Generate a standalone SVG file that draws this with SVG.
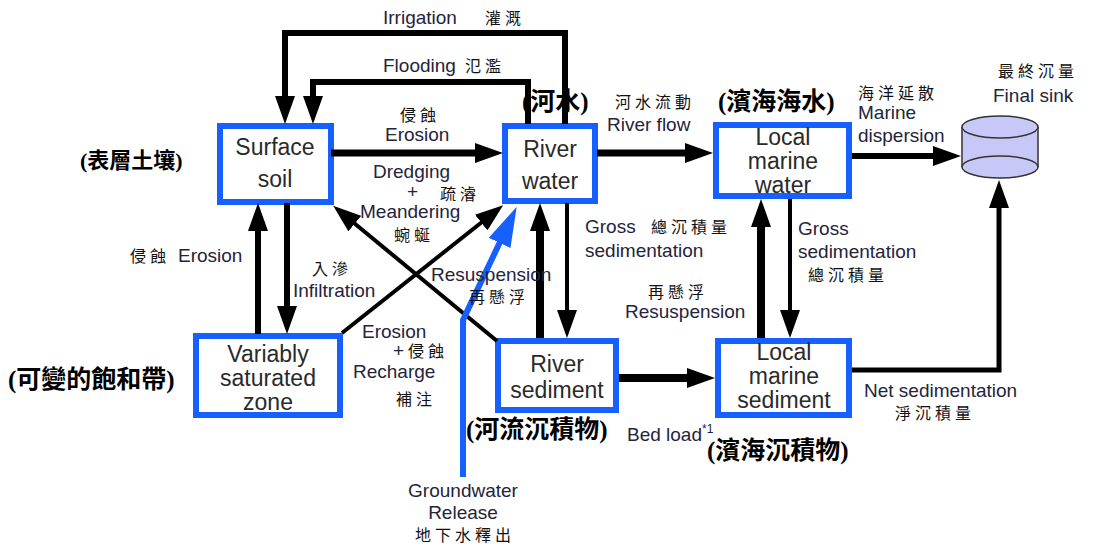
<svg xmlns="http://www.w3.org/2000/svg" width="1098" height="547" viewBox="0 0 1098 547">
<style>
.box{fill:#fff;stroke:#1560ff;stroke-width:6}
.bt{font-family:"Liberation Sans",Arial,sans-serif;font-size:23px;fill:#2a2a2a;text-anchor:middle}
.lb{font-family:"Liberation Sans",Arial,sans-serif;font-size:19px;fill:#24243a}
.zh{font-family:"Noto Sans CJK TC",sans-serif;font-size:16px;fill:#111;letter-spacing:4px}
.an{font-family:"Liberation Serif","Noto Sans CJK TC",serif;font-weight:bold;font-size:25px;fill:#000}
.ln{fill:none;stroke:#000;stroke-linejoin:miter}
</style>
<defs>
<marker id="a" markerUnits="userSpaceOnUse" markerWidth="28" markerHeight="20" refX="1" refY="10" orient="auto"><path d="M0,0 L28,10 L0,20 z" fill="#000"/></marker>
<marker id="b" markerUnits="userSpaceOnUse" markerWidth="40" markerHeight="24" refX="1" refY="12" orient="auto"><path d="M0,0 L40,12 L0,24 z" fill="#1560ff"/></marker>
</defs>

<g id="surface-soil">
<rect class="box" x="220" y="126" width="111" height="76"/>
<text class="bt" x="275" y="155">Surface</text>
<text class="bt" x="275" y="187">soil</text>
<text class="an" x="80" y="168" style="font-size:22px">(表層土壤)</text>
</g>
<g id="river-water">
<rect class="box" x="505" y="126" width="90" height="75"/>
<text class="bt" x="550" y="157">River</text>
<text class="bt" x="550" y="189">water</text>
<text class="an" x="522" y="110">(河水)</text>
</g>
<g id="local-marine-water">
<rect class="box" x="716" y="125" width="133" height="71"/>
<text class="bt" x="783" y="145">Local</text>
<text class="bt" x="783" y="169">marine</text>
<text class="bt" x="783" y="193">water</text>
<text class="an" x="718" y="110">(濱海海水)</text>
</g>
<g id="variably-saturated-zone">
<rect class="box" x="196" y="336" width="144" height="79"/>
<text class="bt" x="268" y="362">Variably</text>
<text class="bt" x="268" y="386">saturated</text>
<text class="bt" x="268" y="410">zone</text>
<text class="an" x="8" y="388">(可變的飽和帶)</text>
</g>
<g id="river-sediment">
<rect class="box" x="498" y="341" width="118" height="69"/>
<text class="bt" x="557" y="372">River</text>
<text class="bt" x="557" y="398">sediment</text>
<text class="an" x="466" y="438">(河流沉積物)</text>
</g>
<g id="local-marine-sediment">
<rect class="box" x="718" y="341" width="131" height="74"/>
<text class="bt" x="784" y="360">Local</text>
<text class="bt" x="784" y="384">marine</text>
<text class="bt" x="784" y="408">sediment</text>
<text class="an" x="707" y="459">(濱海沉積物)</text>
</g>
<g id="final-sink">
<path d="M962,127 V167 A38,11 0 0 0 1038,167 V127 z" fill="#c8c8f8"/>
<ellipse cx="1000" cy="167" rx="38" ry="11" fill="#c8c8f8" stroke="#333" stroke-width="1.5"/>
<path d="M962,127 V167 M1038,127 V167" stroke="#333" stroke-width="1.5" fill="none"/>
<ellipse cx="1000" cy="127" rx="38" ry="11" fill="#c8c8f8" stroke="#333" stroke-width="1.5"/>
<text class="zh" x="998" y="77">最終沉量</text>
<text class="lb" x="993" y="102">Final sink</text>
</g>

<g id="connectors">
<path class="ln" stroke-width="6" d="M565,124 V33 H285 V97" marker-end="url(#a)"/>
<path class="ln" stroke-width="6" d="M528,124 V82 H313 V97" marker-end="url(#a)"/>
<path class="ln" stroke-width="7" d="M331,153 H476" marker-end="url(#a)"/>
<path class="ln" stroke-width="7" d="M597,153 H686" marker-end="url(#a)"/>
<path class="ln" stroke-width="6" d="M852,156 H934" marker-end="url(#a)"/>
<path class="ln" stroke-width="5" d="M852,370 H999 V207" marker-end="url(#a)"/>
<path class="ln" stroke-width="8" d="M619,378 H688" marker-end="url(#a)"/>
<path class="ln" stroke-width="8" d="M540,338 V230" marker-end="url(#a)"/>
<path class="ln" stroke-width="4" d="M567,203 V311" marker-end="url(#a)"/>
<path class="ln" stroke-width="8" d="M761,338 V226" marker-end="url(#a)"/>
<path class="ln" stroke-width="4" d="M790,199 V311" marker-end="url(#a)"/>
<path class="ln" stroke-width="6" d="M258,334 V230" marker-end="url(#a)"/>
<path class="ln" stroke-width="6" d="M287,203 V307" marker-end="url(#a)"/>
<path class="ln" stroke-width="4" d="M342,333 L482,222" marker-end="url(#a)"/>
<path class="ln" stroke-width="4" d="M497,341 L354,223" marker-end="url(#a)"/>
<path fill="none" stroke="#1560ff" stroke-width="6" d="M463,477 V320 L500,242" marker-end="url(#b)"/>
</g>

<g id="labels">
<text class="lb" x="383" y="24">Irrigation</text><text class="zh" x="485" y="24">灌溉</text>
<text class="lb" x="383" y="72">Flooding</text><text class="zh" x="465" y="72">氾濫</text>
<text class="zh" x="400" y="121">侵蝕</text>
<text class="lb" x="385" y="141">Erosion</text>
<text class="lb" x="373" y="178">Dredging</text>
<text class="lb" x="407" y="198">+</text><text class="zh" x="440" y="200">疏濬</text>
<text class="lb" x="360" y="218">Meandering</text>
<text class="zh" x="394" y="241">蜿蜒</text>
<text class="zh" x="130" y="262">侵蝕</text><text class="lb" x="178" y="262">Erosion</text>
<text class="zh" x="312" y="275">入滲</text>
<text class="lb" x="293" y="297">Infiltration</text>
<text class="lb" x="431" y="281">Resuspension</text>
<text class="zh" x="469" y="303">再懸浮</text>
<text class="lb" x="362" y="338">Erosion</text>
<text class="lb" x="393" y="357">+</text><text class="zh" x="408" y="357">侵蝕</text>
<text class="lb" x="353" y="378">Recharge</text>
<text class="zh" x="396" y="405">補注</text>
<text class="zh" x="615" y="108">河水流動</text>
<text class="lb" x="607" y="131">River flow</text>
<text class="lb" x="585" y="233">Gross</text><text class="zh" x="651" y="233">總沉積量</text>
<text class="lb" x="585" y="257">sedimentation</text>
<text class="zh" x="648" y="298">再懸浮</text>
<text class="lb" x="625" y="318">Resuspension</text>
<text class="lb" x="798" y="235">Gross</text>
<text class="lb" x="798" y="258">sedimentation</text>
<text class="zh" x="808" y="281">總沉積量</text>
<text class="zh" x="858" y="99">海洋延散</text>
<text class="lb" x="858" y="119">Marine</text>
<text class="lb" x="858" y="142">dispersion</text>
<text class="lb" x="864" y="397">Net sedimentation</text>
<text class="zh" x="895" y="419">淨沉積量</text>
<text class="lb" x="627" y="441">Bed load<tspan dy="-8" style="font-size:12px">*1</tspan></text>
<text class="lb" x="463" y="497" text-anchor="middle">Groundwater</text>
<text class="lb" x="463" y="519" text-anchor="middle">Release</text>
<text class="zh" x="465" y="541" text-anchor="middle">地下水釋出</text>
</g>
</svg>
